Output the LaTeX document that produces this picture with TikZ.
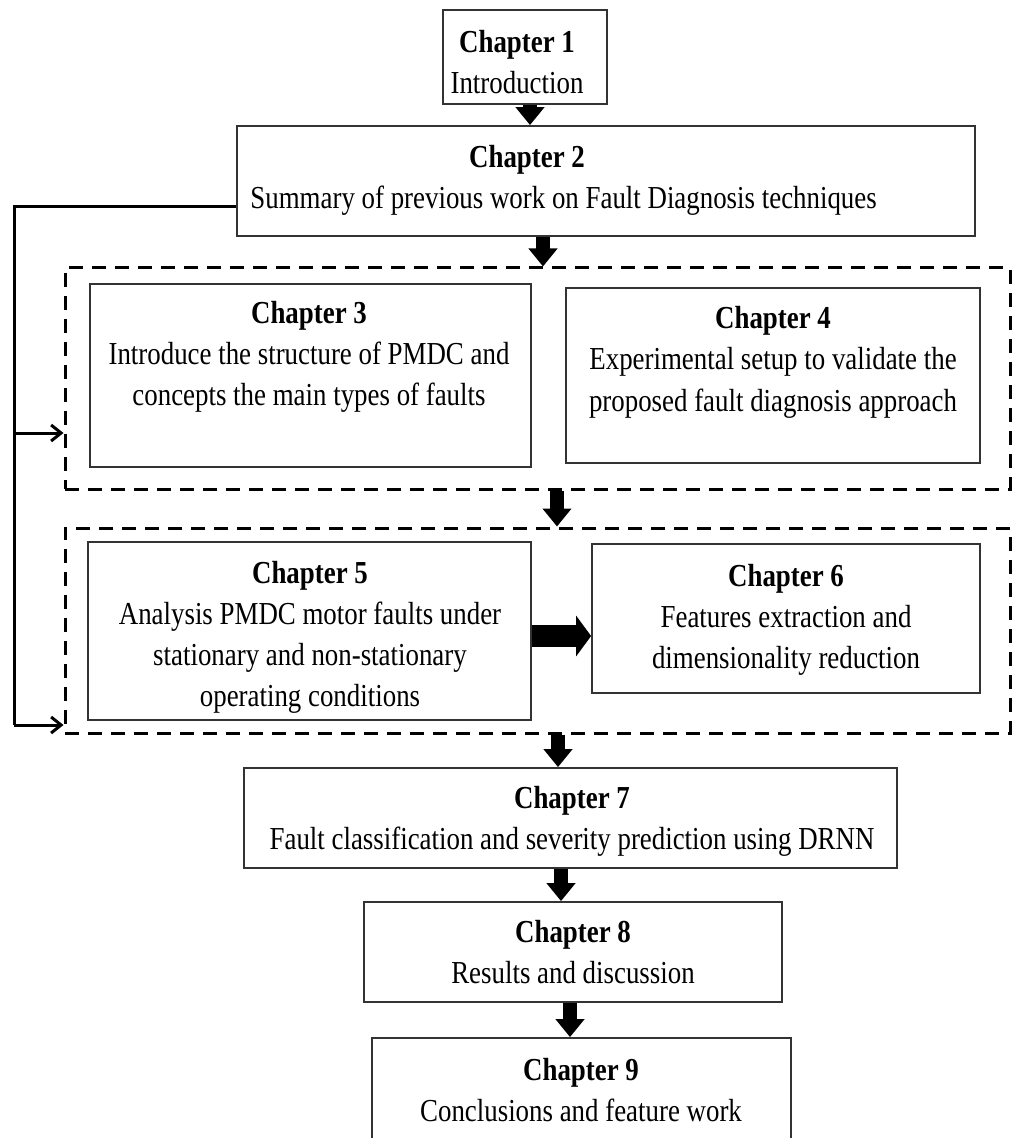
\documentclass[tikz,border=0pt]{standalone}
\usepackage{fontspec}
\setmainfont{Liberation Serif}[FakeStretch=0.84]
\usetikzlibrary{arrows.meta,fit}
\begin{document}
\begin{tikzpicture}[x=0.5pt,y=-0.5pt,
  box/.style={draw=black!80,line width=0.9pt,inner sep=0pt},
  group/.style={draw=black,line width=1.5pt,dash pattern=on 7pt off 4.5pt,inner sep=0pt},
  txt/.style={inner sep=0pt,anchor=base,font=\fontsize{16pt}{20.5pt}\selectfont},
  downarrow/.style={draw=black,line width=7pt,-{Triangle[length=9pt,width=14pt]}},
  sidearrow/.style={draw=black,line width=11pt,-{Triangle[length=7.5pt,width=20pt]}},
  fbline/.style={draw=black,line width=1.5pt,line join=miter},
  fbarrow/.style={draw=black,line width=1.5pt,-{Straight Barb[length=5pt,width=8pt]}}
]
\useasboundingbox (0,0) rectangle (1013,1138);
\clip (0,0) rectangle (1013,1138);

% boxes
\node[box,fit={(443,10) (607,104)}] (b1) {};
\node[box,fit={(237,126) (975,236)}] (b2) {};
\node[group,fit={(65,268) (1010,489)}] (d1) {};
\node[box,fit={(90,284) (531,467)}] (b3) {};
\node[box,fit={(566,288) (980,463)}] (b4) {};
\node[group,fit={(65,528) (1010,733)}] (d2) {};
\node[box,fit={(88,542) (531,720)}] (b5) {};
\node[box,fit={(592,544) (980,693)}] (b6) {};
\node[box,fit={(244,768) (897,868)}] (b7) {};
\node[box,fit={(364,902) (782,1002)}] (b8) {};
\node[box,fit={(372,1038) (791,1170)}] (b9) {};

% texts
\node[txt] (t1) at (517,53) {\begin{tabular}[t]{@{}c@{}}\textbf{Chapter 1}\\Introduction\end{tabular}};
\node[txt] (t2a) at (527,168) {\textbf{Chapter 2}};
\node[txt,anchor=base west] (t2b) at (250,209) {Summary of previous work on Fault Diagnosis techniques};
\node[txt] (t3) at (309,324) {\begin{tabular}[t]{@{}c@{}}\textbf{Chapter 3}\\Introduce the structure of PMDC and\\concepts the main types of faults\end{tabular}};
\node[txt] (t4) at (773,329) {\begin{tabular}[t]{@{}c@{}}\textbf{Chapter 4}\\Experimental setup to validate the\\proposed fault diagnosis approach\end{tabular}};
\node[txt] (t5) at (310,583) {\begin{tabular}[t]{@{}c@{}}\textbf{Chapter 5}\\Analysis PMDC motor faults under\\stationary and non-stationary\\operating conditions\end{tabular}};
\node[txt] (t6) at (786,586) {\begin{tabular}[t]{@{}c@{}}\textbf{Chapter 6}\\Features extraction and\\dimensionality reduction\end{tabular}};
\node[txt] (t7) at (572,808) {\begin{tabular}[t]{@{}c@{}}\textbf{Chapter 7}\\Fault classification and severity prediction using DRNN\end{tabular}};
\node[txt] (t8) at (573,942) {\begin{tabular}[t]{@{}c@{}}\textbf{Chapter 8}\\Results and discussion\end{tabular}};
\node[txt] (t9) at (581,1080) {\begin{tabular}[t]{@{}c@{}}\textbf{Chapter 9}\\Conclusions and feature work\end{tabular}};

% arrow x positions
\coordinate (x12) at (530,0);
\coordinate (x2d) at (543,0);
\coordinate (xdd) at (557,0);
\coordinate (xd7) at (558,0);
\coordinate (x78) at (561,0);
\coordinate (x89) at (570,0);
\coordinate (y56) at (0,636);

\draw[downarrow] (b1.south -| x12) -- (b2.north -| x12);
\draw[downarrow] (b2.south -| x2d) -- (d1.north -| x2d);
\draw[downarrow] (d1.south -| xdd) -- (d2.north -| xdd);
\draw[downarrow] (d2.south -| xd7) -- (b7.north -| xd7);
\draw[downarrow] (b7.south -| x78) -- (b8.north -| x78);
\draw[downarrow] (b8.south -| x89) -- (b9.north -| x89);
\draw[sidearrow] (b5.east |- y56) -- (b6.west |- y56);

% feedback line
\coordinate (f1) at (14,207);
\coordinate (f2) at (14,433);
\coordinate (f3) at (14,725);
\draw[fbline] (b2.west |- f1) -- (f1) -- (f3);
\draw[fbarrow] (f2) -- (d1.west |- f2);
\draw[fbarrow] (f3) -- (d2.west |- f3);
\end{tikzpicture}
\end{document}
